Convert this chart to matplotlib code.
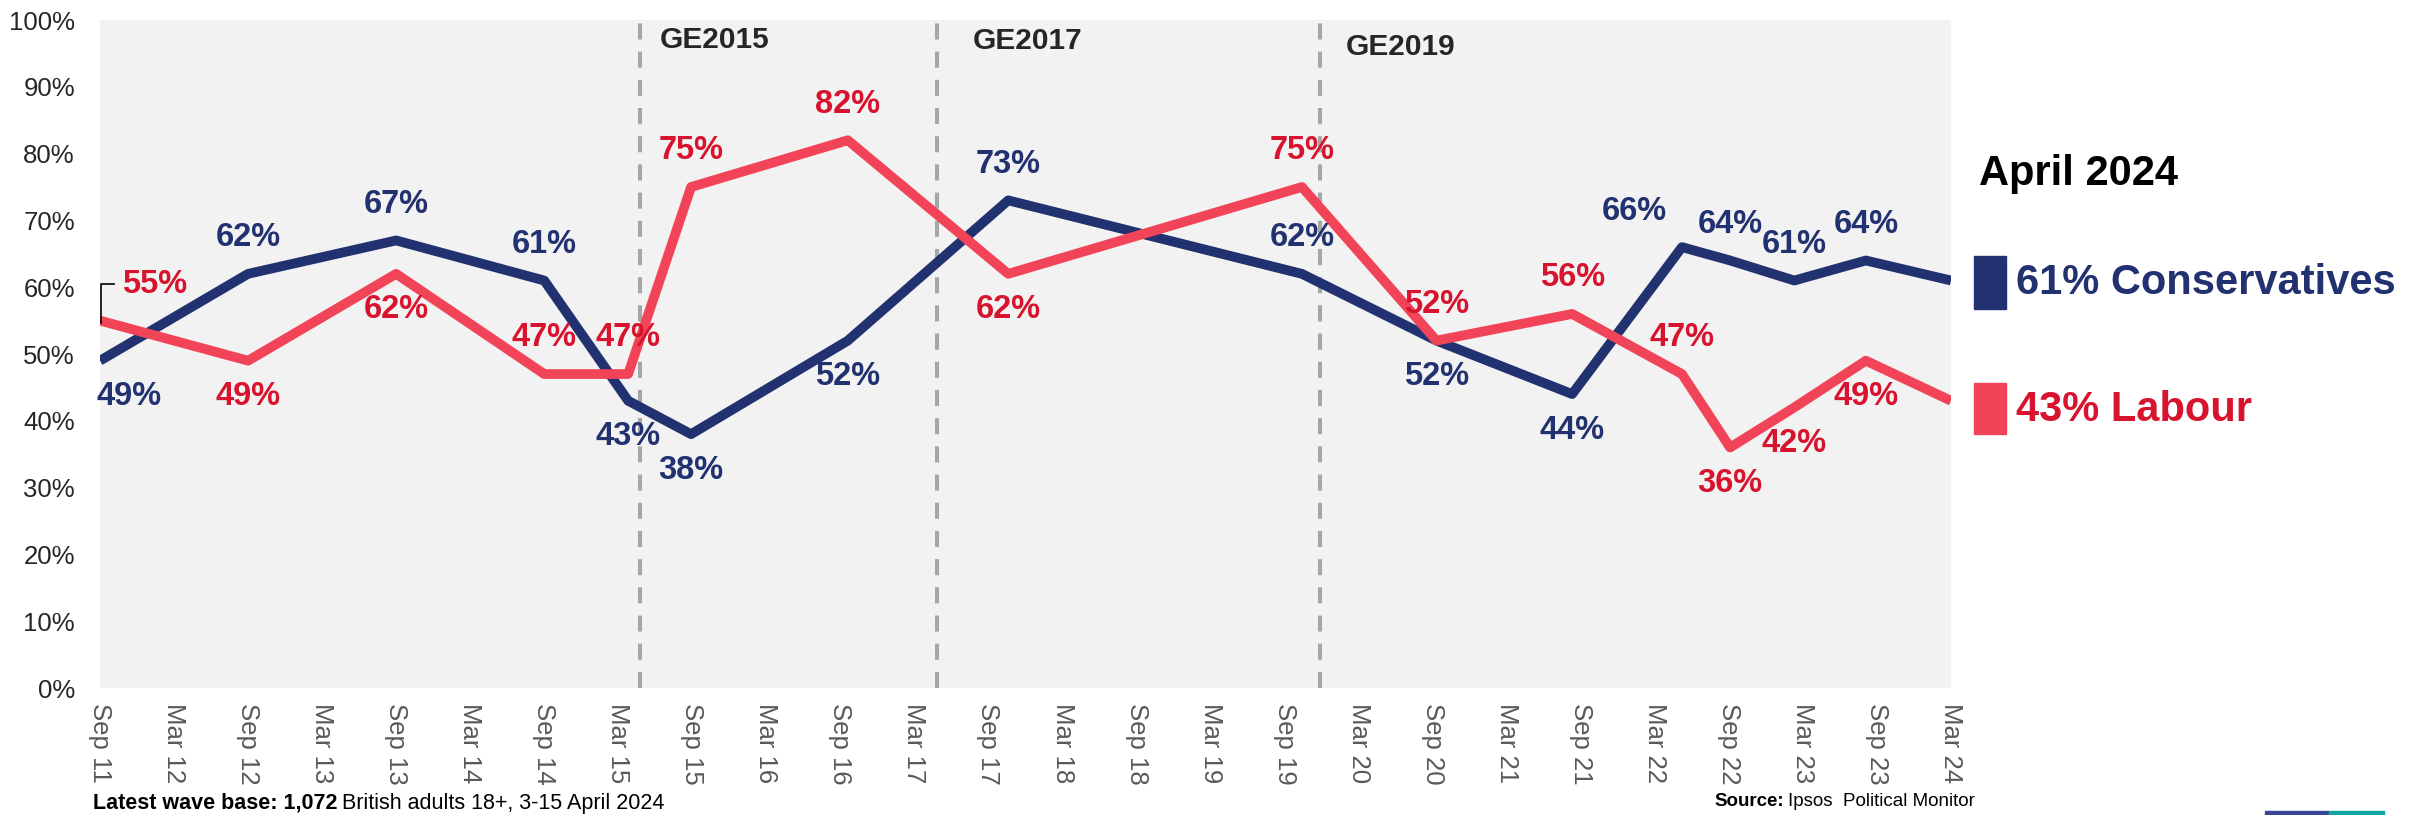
import matplotlib
matplotlib.use("Agg")
import matplotlib.pyplot as plt
from matplotlib.patches import Rectangle

plt.rcParams['font.family'] = ['Liberation Sans', 'DejaVu Sans']

# ---------------- data (months since Sep 2011)
months = [0, 12, 24, 36, 42.8, 47.9, 60.6, 73.6, 97.4, 108.3, 119.3, 128.2, 132.1, 137.3, 143.1, 150]
con = [49, 62, 67, 61, 43, 38, 52, 73, 62, 52, 44, 66, 64, 61, 64, 61]
lab = [55, 49, 62, 47, 47, 75, 82, 62, 75, 52, 56, 47, 36, 42, 49, 43]

tick_labels = ['Sep 11', 'Mar 12', 'Sep 12', 'Mar 13', 'Sep 13', 'Mar 14', 'Sep 14',
               'Mar 15', 'Sep 15', 'Mar 16', 'Sep 16', 'Mar 17', 'Sep 17', 'Mar 18',
               'Sep 18', 'Mar 19', 'Sep 19', 'Mar 20', 'Sep 20', 'Mar 21', 'Sep 21',
               'Mar 22', 'Sep 22', 'Mar 23', 'Sep 23', 'Mar 24']

elections = ['GE2015', 'GE2017', 'GE2019']
election_month = [43.8, 67.8, 98.9]

latest = 'April 2024'

# ---------------- styling
NAVY = '#22316F'
RED_LINE = '#F24458'
RED_TXT = '#D8132D'

# label placement: u = above, d = below, None = no label
con_pos = ['d', 'u', 'u', 'u', 'd', 'd', 'd', 'u', 'u', 'd', 'd', 'u', 'u', 'u', 'u', None]
con_dx = [21, 0, 0, 0, 0, 0, 0, 0, 0, 0, 0, -34, 0, 0, 0, 0]
lab_pos = ['u', 'd', 'd', 'u', 'u', 'u', 'u', 'd', 'u', 'u', 'u', 'u', 'd', 'd', 'd', None]
lab_dx = [39, 0, 0, 0, 0, 0, 0, 0, 0, 0, 0, 0, 0, 0, 0, 0]
ge_dx = [14, 26, 18]
ge_dy = [97.0, 96.8, 96.0]

fig = plt.figure(figsize=(24.28, 8.15), dpi=100)
ax = fig.add_axes([100 / 2428, 1 - 688 / 815, 1851 / 2428, 668 / 815])
ax.set_facecolor('#F2F2F2')
for s in ax.spines.values():
    s.set_visible(False)

ax.plot(months, con, color=NAVY, lw=7, solid_joinstyle='round', solid_capstyle='butt', zorder=3)
ax.plot(months, lab, color=RED_LINE, lw=7, solid_joinstyle='round', solid_capstyle='butt', zorder=4)

for i, m in enumerate(election_month):
    ax.axvline(m, color='#A6A6A6', lw=2.9, ls=(0, (4, 3)), zorder=1)
    ax.annotate(elections[i], (m, ge_dy[i]), xytext=(ge_dx[i], 0), textcoords='offset points',
                ha='left', va='center', fontsize=21.5, fontweight='bold', color='#262626')

for vals, pos, dx, col in [(con, con_pos, con_dx, NAVY), (lab, lab_pos, lab_dx, RED_TXT)]:
    for i, v in enumerate(vals):
        if pos[i] is None:
            continue
        dy = 26 if pos[i] == 'u' else -26
        ax.annotate(f'{v}%', (months[i], v), xytext=(dx[i], dy), textcoords='offset points',
                    ha='center', va='center', fontsize=23.5, fontweight='bold', color=col, zorder=6)

# leader line for the first Labour label
ax.plot([months[0] + 0.05, months[0] + 0.05, months[0] + 1.1],
        [lab[0] - 0.3, lab[0] + 5.5, lab[0] + 5.5], color='black', lw=1.2, zorder=5, clip_on=False)

ax.set_xlim(0, 150)
ax.set_ylim(0, 100)
ax.set_xticks(range(0, 151, 6))
ax.set_xticklabels(tick_labels, rotation=-90, fontsize=18.5, color='#595959')
ax.set_yticks(range(0, 101, 10))
ax.set_yticklabels([f'{t}%' for t in range(0, 101, 10)], fontsize=18.5, color='#262626')
ax.tick_params(axis='x', length=0, pad=11)
ax.tick_params(axis='y', length=0, pad=18)

# legend on the right
fig.text(1979 / 2428, 1 - 174 / 815, latest, fontsize=30, fontweight='bold', color='black',
         ha='left', va='center')
fig.patches.append(Rectangle((1973.5 / 2428, 1 - 309 / 815), 32 / 2428, 53 / 815,
                             transform=fig.transFigure, color=NAVY))
fig.patches.append(Rectangle((1973.5 / 2428, 1 - 434 / 815), 32 / 2428, 51 / 815,
                             transform=fig.transFigure, color=RED_LINE))
fig.text(2016 / 2428, 1 - 283 / 815, f'{con[-1]}% Conservatives', fontsize=30, fontweight='bold',
         color=NAVY, ha='left', va='center')
fig.text(2016 / 2428, 1 - 410 / 815, f'{lab[-1]}% Labour', fontsize=30, fontweight='bold',
         color=RED_TXT, ha='left', va='center')

# footer
t = fig.text(93 / 2428, 1 - 803 / 815, 'Latest wave base: 1,072', fontsize=15.5, fontweight='bold',
             ha='left', va='center')
fig.canvas.draw()
bb = t.get_window_extent()
fig.text(bb.x1 / fig.bbox.width + 0.002, 1 - 803 / 815, 'British adults 18+, 3-15 April 2024',
         fontsize=15.5, ha='left', va='center')
s = fig.text(1714 / 2428, 1 - 801 / 815, 'Source:', fontsize=13.5, fontweight='bold',
             ha='left', va='center')
bb = s.get_window_extent()
fig.text(bb.x1 / fig.bbox.width + 0.002, 1 - 801 / 815, 'Ipsos  Political Monitor',
         fontsize=13.5, ha='left', va='center')

fig.patches.append(Rectangle((2265 / 2428, 0), 64 / 2428, 4 / 815, transform=fig.transFigure,
                             color='#3A4596'))
fig.patches.append(Rectangle((2329 / 2428, 0), 55 / 2428, 4 / 815, transform=fig.transFigure,
                             color='#10A5A0'))

fig.savefig('out.png', dpi=100)
